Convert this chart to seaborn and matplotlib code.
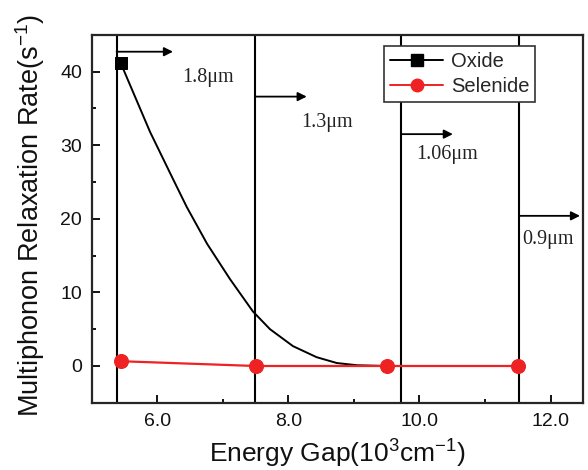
import matplotlib
matplotlib.use("Agg")
import matplotlib.pyplot as plt
import pandas as pd
import seaborn as sns
from matplotlib.lines import Line2D
from matplotlib.ticker import MultipleLocator, FormatStrFormatter

sns.set_theme(
    style="ticks",
    rc={
        "axes.linewidth": 1.6,
        "mathtext.fontset": "custom",
        "mathtext.rm": "Liberation Sans",
        "mathtext.it": "Liberation Sans:italic",
    },
)
plt.rcParams["font.family"] = ["Liberation Sans", "DejaVu Sans"]

# oxide curve
oxide_curve_x = [5.44, 5.89, 6.24, 6.45, 6.76, 7.11, 7.46, 7.72, 8.07, 8.43, 8.74, 9.05, 9.5]
oxide_curve_y = [41.2, 31.8, 25.4, 21.6, 16.6, 11.8, 7.4, 5.0, 2.7, 1.2, 0.4, 0.1, 0.0]
oxide_pts_x = [5.44]
oxide_pts_y = [41.2]

selenide_x = [5.44, 7.5, 9.5, 11.5]
selenide_y = [0.65, 0.0, 0.0, 0.0]

# cut-off wavelengths
cutoff_x = [5.38, 7.49, 9.72, 11.52]
cutoff_labels = ["1.8μm", "1.3μm", "1.06μm", "0.9μm"]
arrow_y = [42.7, 36.6, 31.5, 20.4]
arrow_end = [6.24, 8.28, 10.51, 12.45]
label_x = [6.77, 8.59, 10.42, 11.96]
label_y = [39.2, 33.1, 28.7, 17.2]

curve = pd.DataFrame({"x": oxide_curve_x, "y": oxide_curve_y})
sel = pd.DataFrame({"x": selenide_x, "y": selenide_y})
oxp = pd.DataFrame({"x": oxide_pts_x, "y": oxide_pts_y})

fig, ax = plt.subplots(figsize=(5.88, 4.70), dpi=100)
fig.subplots_adjust(left=0.156, right=0.992, bottom=0.143, top=0.926)

for xv in cutoff_x:
    ax.axvline(xv, color="black", lw=1.5, zorder=1)

sns.lineplot(data=curve, x="x", y="y", color="black", lw=1.4, ax=ax, zorder=3)
sns.scatterplot(data=oxp, x="x", y="y", marker="s", color="black", s=80,
                edgecolor="black", ax=ax, zorder=4)
sns.lineplot(data=sel, x="x", y="y", color="#ee2222", lw=1.6, ax=ax, zorder=5)
sns.scatterplot(data=sel, x="x", y="y", marker="o", color="#ee2222", s=100,
                edgecolor="#ee2222", ax=ax, zorder=6)

for x0, x1, yv in zip(cutoff_x, arrow_end, arrow_y):
    ax.annotate("", xy=(x1, yv), xytext=(x0, yv),
                arrowprops=dict(arrowstyle="-|>", color="black", lw=1.3,
                                mutation_scale=13, shrinkA=0, shrinkB=0))
for lx, ly, txt in zip(label_x, label_y, cutoff_labels):
    ax.text(lx, ly, txt, ha="center", va="center", fontsize=14.5,
            family=["Liberation Serif", "DejaVu Serif"], color="#222222")

ax.set_xlim(5.0, 12.5)
ax.set_ylim(-5, 45)
ax.xaxis.set_major_locator(MultipleLocator(2.0))
ax.xaxis.set_minor_locator(MultipleLocator(1.0))
ax.xaxis.set_major_formatter(FormatStrFormatter("%.1f"))
ax.yaxis.set_major_locator(MultipleLocator(10))
ax.yaxis.set_minor_locator(MultipleLocator(5))
ax.tick_params(which="both", direction="in", width=1.3, color="black",
               labelsize=14, labelcolor="#111111")
ax.tick_params(which="major", length=6, pad=7)
ax.tick_params(which="minor", length=3)
ax.set_xlabel("Energy Gap(10$^3$cm$^{-1}$)", fontsize=19, color="#111111")
ax.set_ylabel("Multiphonon Relaxation Rate(s$^{-1}$)", fontsize=19.5, color="#111111")
ax.xaxis.set_label_coords(0.499, -0.095)
ax.yaxis.set_label_coords(-0.09, 0.51)

handles = [
    Line2D([], [], color="black", marker="s", markersize=8, lw=1.4),
    Line2D([], [], color="#ee2222", marker="o", markersize=9, lw=1.4),
]
leg = ax.legend(handles, ["Oxide", "Selenide"], loc="upper right",
                bbox_to_anchor=(0.923, 0.997), fontsize=14.5, frameon=True,
                fancybox=False, framealpha=1, edgecolor="#333333",
                handlelength=2.6, borderpad=0.3, labelspacing=0.3,
                handletextpad=0.4)
leg.set_zorder(10)
leg.get_frame().set_linewidth(1.2)

fig.savefig("out.png", dpi=100)
